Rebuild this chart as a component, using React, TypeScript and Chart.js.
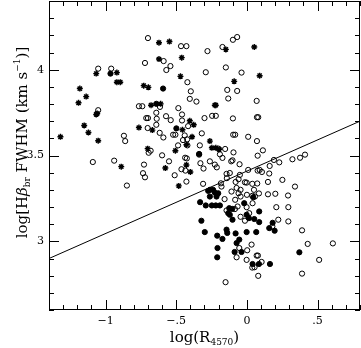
import React, { useEffect, useRef } from "react";
import { Chart, registerables } from "chart.js";

Chart.register(...registerables);

// open circles
const openX = [-1.052, -0.960, -1.052, -1.090, -0.939, -0.870, -0.861, -0.849, -0.764, -0.740, -0.735, -0.728, -0.721, -0.721, -0.700, -0.712, -0.700, -0.702, -0.695, -0.681, -0.641, -0.638, -0.641, -0.617, -0.600, -0.591, -0.589, -0.570, -0.541, -0.572, -0.539, -0.615, -0.551, -0.522, -0.506, -0.511, -0.487, -0.485, -0.459, -0.459, -0.466, -0.428, -0.421, -0.404, -0.397, -0.357, -0.440, -0.452, -0.423, -0.421, -0.437, -0.425, -0.463, -0.435, -0.428, -0.416, -0.333, -0.338, -0.329, -0.319, -0.307, -0.310, -0.300, -0.291, -0.279, -0.262, -0.246, -0.220, -0.227, -0.213, -0.201, -0.191, -0.184, -0.180, -0.173, -0.149, -0.139, -0.132, -0.173, -0.154, -0.144, -0.142, -0.158, -0.144, -0.121, -0.111, -0.099, -0.069, -0.069, -0.038, -0.099, -0.097, -0.083, -0.095, -0.102, -0.109, -0.083, -0.080, -0.073, -0.059, -0.052, -0.050, -0.045, -0.059, -0.085, -0.066, -0.045, -0.014, -0.002, 0.009, 0.009, -0.002, -0.000, 0.016, 0.038, 0.038, 0.040, 0.050, 0.057, 0.073, 0.076, 0.090, 0.106, 0.113, 0.069, 0.071, 0.080, 0.071, 0.076, 0.085, 0.038, 0.054, 0.080, 0.069, 0.078, 0.104, 0.002, -0.002, 0.033, -0.151, -0.073, -0.054, -0.014, -0.045, 0.158, 0.149, 0.149, 0.161, 0.191, 0.229, 0.201, 0.208, 0.222, 0.251, 0.291, 0.293, 0.293, 0.322, 0.340, 0.376, 0.411, 0.390, 0.390, 0.430, 0.511, 0.608, 0.180];
const openY = [4.006, 4.006, 3.764, 3.462, 3.470, 3.615, 3.584, 3.325, 3.787, 3.787, 3.397, 3.447, 3.373, 4.039, 4.184, 3.718, 3.718, 3.660, 3.516, 3.528, 3.749, 3.714, 3.679, 3.632, 3.501, 3.605, 4.050, 3.998, 4.021, 3.729, 3.706, 3.783, 3.466, 3.621, 3.621, 3.385, 3.559, 3.776, 3.739, 3.704, 4.137, 4.137, 3.927, 3.830, 3.874, 3.814, 3.617, 3.590, 3.594, 3.559, 3.487, 3.483, 3.420, 3.412, 3.348, 3.671, 3.559, 3.505, 3.455, 3.629, 3.424, 3.335, 3.718, 3.985, 4.108, 3.466, 3.731, 3.731, 3.447, 3.431, 3.540, 3.507, 3.338, 3.319, 4.132, 4.013, 3.882, 3.832, 3.486, 3.538, 3.393, 3.368, 3.246, 3.180, 3.398, 3.466, 4.174, 4.190, 3.876, 3.983, 3.716, 3.621, 3.621, 3.518, 3.472, 3.290, 3.242, 3.346, 3.311, 3.362, 3.449, 3.387, 3.300, 3.280, 3.188, 3.203, 3.261, 3.344, 3.342, 3.416, 3.609, 3.199, 3.271, 3.164, 3.335, 3.265, 3.222, 3.300, 3.261, 3.337, 3.412, 3.416, 3.404, 3.530, 3.818, 3.723, 3.723, 3.584, 3.499, 3.279, 2.847, 2.849, 2.799, 2.917, 2.917, 2.880, 2.948, 2.892, 2.981, 2.762, 2.907, 2.961, 3.120, 3.143, 3.395, 3.346, 3.274, 3.439, 3.474, 3.460, 3.277, 3.199, 3.126, 3.358, 3.267, 3.199, 3.116, 3.478, 3.319, 3.487, 3.505, 3.064, 2.812, 2.985, 2.892, 2.988, 3.087];

// filled circles
const filledX = [-0.331, -0.322, -0.298, -0.291, -0.274, -0.262, -0.262, -0.239, -0.227, -0.215, -0.203, -0.248, -0.220, -0.191, -0.210, -0.208, -0.210, -0.173, -0.144, -0.139, -0.125, -0.121, -0.132, -0.102, -0.104, -0.080, -0.073, -0.054, -0.087, -0.038, -0.019, -0.002, -0.002, 0.014, 0.045, 0.052, 0.066, 0.087, 0.087, 0.040, 0.085, 0.163, 0.158, 0.182, 0.196, 0.371, -0.965, -0.593, -0.641, -0.499, -0.338];
const filledY = [3.228, 3.120, 3.054, 3.209, 3.294, 3.261, 3.300, 3.300, 3.284, 3.261, 3.280, 3.209, 3.209, 3.209, 3.033, 2.961, 2.907, 3.014, 3.068, 3.049, 3.193, 3.155, 3.164, 3.126, 3.189, 3.046, 2.990, 3.010, 2.938, 2.938, 3.222, 3.155, 3.054, 3.135, 3.257, 3.130, 3.054, 3.174, 3.112, 2.868, 2.868, 2.868, 3.077, 3.108, 3.062, 2.936, 3.977, 3.890, 3.801, 3.658, 3.509];

// asterisks
const starX = [-1.319, -1.182, -1.191, -1.137, -1.151, -1.121, -1.066, -1.059, -1.066, -1.052, -0.920, -0.920, -0.896, -0.889, -0.730, -0.697, -0.764, -0.702, -0.678, -0.669, -0.622, -0.622, -0.548, -0.461, -0.470, -0.577, -0.506, -0.482, -0.456, -0.428, -0.400, -0.388, -0.404, -0.376, -0.428, -0.262, -0.227, -0.220, -0.248, -0.220, -0.196, -0.149, -0.090, 0.052, 0.090, -0.610];
const starY = [3.609, 3.890, 3.807, 3.843, 3.675, 3.634, 3.977, 3.745, 3.739, 3.586, 3.983, 3.927, 3.927, 3.435, 3.907, 3.897, 3.663, 3.540, 3.793, 3.648, 4.157, 4.062, 4.164, 4.070, 3.961, 3.427, 3.528, 3.323, 3.650, 3.445, 3.404, 3.609, 3.702, 3.679, 3.563, 3.584, 3.793, 3.793, 3.545, 3.545, 3.536, 4.118, 3.932, 4.132, 3.965, 3.801];

// dividing line
const lineX = [-1.4, 0.8];
const lineY = [2.9, 3.7];

const xMajor = [-1, -0.5, 0, 0.5];
const yMajor = [3, 3.5, 4];

const SERIF = "'DejaVu Serif', 'Liberation Serif', serif";

function pts(xs: number[], ys: number[]) {
  return xs.map((x, i) => ({ x, y: ys[i] }));
}

function fmtX(v: number) {
  if (Math.abs(v) < 1e-9) return "0";
  const a = Math.abs(v);
  const s = a === 0.5 ? ".5" : String(a);
  return (v < 0 ? "\u2212" : "") + s;
}

type Seg = { t: string; size: number; dy: number; italic?: boolean };

function drawSegs(ctx: CanvasRenderingContext2D, segs: Seg[], cx: number, baseY: number) {
  let total = 0;
  const widths = segs.map((s) => {
    ctx.font = `${s.italic ? "italic " : ""}${s.size}px ${SERIF}`;
    const w = ctx.measureText(s.t).width;
    total += w;
    return w;
  });
  let x = cx - total / 2;
  ctx.textAlign = "left";
  ctx.textBaseline = "alphabetic";
  segs.forEach((s, i) => {
    ctx.font = `${s.italic ? "italic " : ""}${s.size}px ${SERIF}`;
    ctx.fillText(s.t, x, baseY + s.dy);
    x += widths[i];
  });
}

const framePlugin = {
  id: "frameTicks",
  afterDraw(chart: any) {
    const { ctx, chartArea: a, scales } = chart;
    const xs = scales.x;
    const ys = scales.y;
    ctx.save();
    ctx.strokeStyle = "#000";
    ctx.lineWidth = 1;
    ctx.strokeRect(a.left + 0.5, a.top + 0.5, a.right - a.left - 1, a.bottom - a.top - 1);
    ctx.beginPath();
    for (let k = -14; k <= 8; k++) {
      const v = k / 10;
      const px = Math.round(xs.getPixelForValue(v)) + 0.5;
      const len = k % 5 === 0 ? 10 : 5;
      ctx.moveTo(px, a.bottom);
      ctx.lineTo(px, a.bottom - len);
      ctx.moveTo(px, a.top);
      ctx.lineTo(px, a.top + len);
    }
    for (let k = 26; k <= 44; k++) {
      const v = k / 10;
      const py = Math.round(ys.getPixelForValue(v)) + 0.5;
      const len = k % 5 === 0 ? 10 : 5;
      ctx.moveTo(a.left, py);
      ctx.lineTo(a.left + len, py);
      ctx.moveTo(a.right, py);
      ctx.lineTo(a.right - len, py);
    }
    ctx.stroke();

    ctx.fillStyle = "#000";
    // x title
    drawSegs(
      ctx,
      [
        { t: "log(R", size: 15, dy: 0 },
        { t: "4570", size: 9, dy: 3 },
        { t: ")", size: 15, dy: 0 },
      ],
      (a.left + a.right) / 2,
      342
    );
    // y title
    ctx.translate(27, (a.top + a.bottom) / 2 - 13);
    ctx.rotate(-Math.PI / 2);
    drawSegs(
      ctx,
      [
        { t: "log[H", size: 15, dy: 0 },
        { t: "\u03b2", size: 15, dy: 0, italic: true },
        { t: "br", size: 9, dy: 3 },
        { t: " FWHM (km s", size: 15, dy: 0 },
        { t: "\u22121", size: 9, dy: -7 },
        { t: ")]", size: 15, dy: 0 },
      ],
      0,
      0
    );
    ctx.restore();
  },
};

export default function App() {
  const ref = useRef<HTMLCanvasElement | null>(null);
  useEffect(() => {
    if (!ref.current) return;
    const chart = new Chart(ref.current, {
      type: "scatter",
      data: {
        datasets: [
          {
            type: "line",
            data: pts(lineX, lineY),
            borderColor: "#000",
            borderWidth: 1,
            pointRadius: 0,
            fill: false,
          } as any,
          {
            data: pts(starX, starY),
            pointStyle: "star",
            pointRadius: 3,
            borderColor: "#000",
            backgroundColor: "#000",
            borderWidth: 1.4,
          },
          {
            data: pts(filledX, filledY),
            pointStyle: "circle",
            pointRadius: 2.6,
            borderColor: "#000",
            backgroundColor: "#000",
            borderWidth: 1,
          },
          {
            data: pts(openX, openY),
            pointStyle: "circle",
            pointRadius: 2.6,
            borderColor: "#000",
            backgroundColor: "rgba(0,0,0,0)",
            borderWidth: 1,
          },
        ],
      },
      options: {
        animation: false,
        responsive: false,
        layout: { autoPadding: false, padding: { top: 1, right: 1, left: 0, bottom: 0 } },
        plugins: { legend: { display: false }, tooltip: { enabled: false } },
        scales: {
          x: {
            type: "linear",
            min: -1.4,
            max: 0.8,
            grid: { display: false, drawTicks: false },
            border: { display: false },
            ticks: {
              stepSize: 0.1,
              autoSkip: false,
              maxRotation: 0,
              padding: 5,
              color: "#000",
              font: { family: SERIF, size: 11 },
              callback: (value: any) => {
                const v = Math.round(Number(value) * 10) / 10;
                return xMajor.some((m) => Math.abs(m - v) < 1e-6) ? fmtX(v) : null;
              },
            },
            afterFit: (s: any) => {
              s.height = 38;
              s.paddingLeft = 0;
              s.paddingRight = 0;
            },
          },
          y: {
            type: "linear",
            min: 2.6,
            max: 4.4,
            grid: { display: false, drawTicks: false },
            border: { display: false },
            ticks: {
              stepSize: 0.1,
              autoSkip: false,
              padding: 5,
              color: "#000",
              font: { family: SERIF, size: 11 },
              callback: (value: any) => {
                const v = Math.round(Number(value) * 10) / 10;
                return yMajor.some((m) => Math.abs(m - v) < 1e-6) ? String(v) : null;
              },
            },
            afterFit: (s: any) => {
              s.width = 49;
              s.paddingTop = 0;
              s.paddingBottom = 0;
            },
          },
        },
      },
      plugins: [framePlugin],
    });
    return () => chart.destroy();
  }, []);
  return (
    <div style={{ position: "absolute", left: 0, top: 0, width: 361, height: 348, background: "#fff" }}>
      <canvas ref={ref} width={361} height={348} style={{ display: "block" }} />
    </div>
  );
}
